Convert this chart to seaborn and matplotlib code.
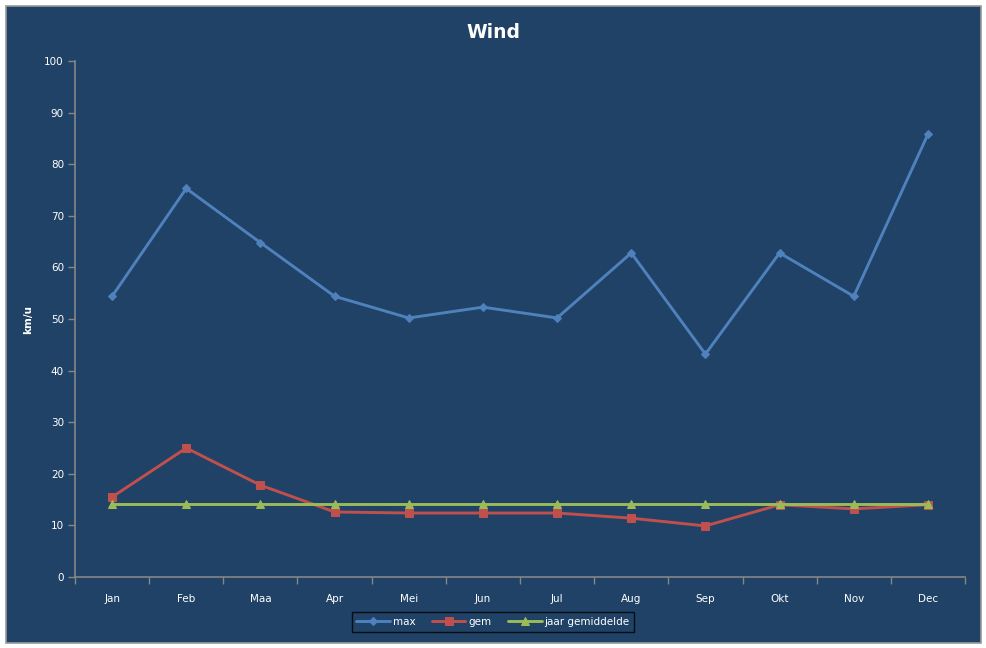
import matplotlib
matplotlib.use("Agg")
import matplotlib.pyplot as plt
import seaborn as sns
import pandas as pd
from matplotlib.patches import Rectangle

months = ["Jan", "Feb", "Maa", "Apr", "Mei", "Jun", "Jul", "Aug", "Sep", "Okt", "Nov", "Dec"]
max_vals = [54.4, 75.3, 64.8, 54.4, 50.2, 52.3, 50.2, 62.8, 43.2, 62.8, 54.4, 85.8]
gem_vals = [15.5, 25.0, 17.8, 12.6, 12.4, 12.4, 12.4, 11.4, 9.9, 14.0, 13.2, 14.0]
jaar_vals = [14.1] * 12
series_names = ["max", "gem", "jaar gemiddelde"]
colors = ["#4F81BD", "#C0504D", "#9BBB59"]
markers = ["D", "s", "^"]
yticks = [0, 10, 20, 30, 40, 50, 60, 70, 80, 90, 100]

BG = "#1F4266"
TXT = "#FFFFFF"
GRID = "#868686"

rows = []
for name, vals in zip(series_names, [max_vals, gem_vals, jaar_vals]):
    for i, (m, v) in enumerate(zip(months, vals)):
        rows.append({"idx": i, "maand": m, "waarde": v, "serie": name})
df = pd.DataFrame(rows)

sns.set_theme(style="white")
plt.rcParams["font.family"] = ["DejaVu Sans"]

fig = plt.figure(figsize=(9.87, 6.48), dpi=100, facecolor="white")
fig.patches.append(Rectangle((6 / 987, 1 - 643 / 648), 975 / 987, 637 / 648,
                             transform=fig.transFigure, facecolor=BG,
                             edgecolor="#9a9a9a", linewidth=1.2, zorder=-10))
ax = fig.add_axes([75 / 987, 1 - 577 / 648, 890 / 987, 516 / 648])
ax.set_facecolor("none")
ax.set_zorder(1)

sizes = {"max": 4.2, "gem": 5.8, "jaar gemiddelde": 5.5}
for name, c, mk in zip(series_names, colors, markers):
    sub = df[df["serie"] == name]
    sns.lineplot(data=sub, x="idx", y="waarde", ax=ax, color=c, marker=mk,
                 markersize=sizes[name], markeredgecolor=c, linewidth=2.1,
                 label=name, zorder=3)

ax.set_xlim(-0.5, len(months) - 0.5)
ax.set_ylim(0, 100)
ax.set_yticks(yticks)
ax.set_yticklabels([str(t) for t in yticks], color=TXT, fontsize=7.5)
ax.set_xticks(range(len(months)))
ax.set_xticklabels(months, color=TXT, fontsize=7.5)
ax.set_xticks([i - 0.5 for i in range(len(months) + 1)], minor=True)
ax.tick_params(axis="x", which="major", length=0, pad=12)
ax.tick_params(axis="x", which="minor", length=5, color=GRID, direction="out", width=1, bottom=True)
ax.tick_params(axis="y", length=5, color=GRID, direction="out", width=1, pad=3, left=True)

for s in ["top", "right"]:
    ax.spines[s].set_visible(False)
for s in ["left", "bottom"]:
    ax.spines[s].set_color(GRID)
    ax.spines[s].set_linewidth(1.2)

ax.set_xlabel("")
ax.set_ylabel("km/u", color=TXT, fontsize=7.5, fontweight="bold")
ax.yaxis.set_label_coords(-42 / 890, 0.5)
fig.text(493 / 987, 1 - 32 / 648, "Wind", ha="center", va="center",
         color=TXT, fontsize=13.5, fontweight="bold")

leg = ax.legend(loc="center", bbox_to_anchor=(493 / 987, 1 - 622 / 648),
                bbox_transform=fig.transFigure, ncol=3, frameon=True,
                fontsize=7.5, handlelength=3.2, columnspacing=1.6,
                handletextpad=0.3, borderpad=0.45, fancybox=False)
leg.get_frame().set_facecolor(BG)
leg.get_frame().set_edgecolor("black")
leg.get_frame().set_linewidth(1.0)
for t in leg.get_texts():
    t.set_color(TXT)

fig.savefig("out.png", dpi=100, facecolor="white")
